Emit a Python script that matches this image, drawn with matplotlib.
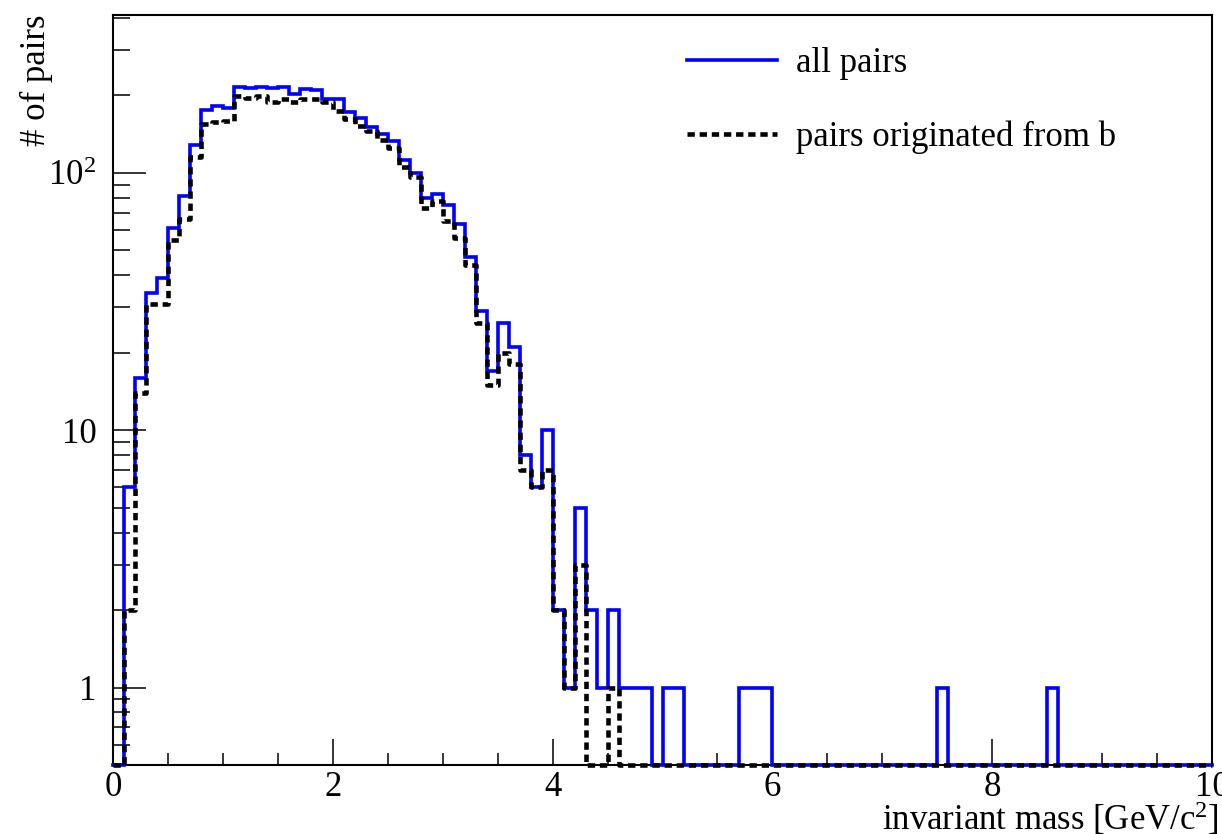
import numpy as np
import matplotlib
matplotlib.use("Agg")
import matplotlib.pyplot as plt
from matplotlib.ticker import FixedLocator, FixedFormatter, MultipleLocator, NullFormatter
from matplotlib.lines import Line2D

# ---------------- data (100 bins of 0.1 GeV/c^2 from 0 to 10) ----------------
x_min, x_max, n_bins = 0.0, 10.0, 100

all_pairs = [
    0, 6, 16, 34, 39, 61, 81, 128, 175, 181,
    178, 216, 213, 216, 213, 216, 203, 212, 209, 193,
    193, 172, 163, 151, 141, 133, 112, 100, 80, 83,
    75, 63, 47, 29, 17, 26, 21, 8, 6, 10,
    2, 1, 5, 2, 1, 2, 1, 1, 1, 0,
    1, 1, 0, 0, 0, 0, 0, 1, 1, 1,
    0, 0, 0, 0, 0, 0, 0, 0, 0, 0,
    0, 0, 0, 0, 0, 1, 0, 0, 0, 0,
    0, 0, 0, 0, 0, 1, 0, 0, 0, 0,
    0, 0, 0, 0, 0, 0, 0, 0, 0, 0,
]

pairs_from_b = [
    0, 2, 14, 31, 31, 55, 66, 115, 155, 157,
    159, 199, 196, 199, 189, 193, 188, 193, 193, 188,
    173, 162, 152, 145, 134, 125, 105, 96, 73, 78,
    65, 56, 44, 26, 15, 20, 18, 7, 6, 7,
    2, 1, 3, 0, 0, 1, 0, 0, 0, 0,
    0, 0, 0, 0, 0, 0, 0, 0, 0, 0,
    0, 0, 0, 0, 0, 0, 0, 0, 0, 0,
    0, 0, 0, 0, 0, 0, 0, 0, 0, 0,
    0, 0, 0, 0, 0, 0, 0, 0, 0, 0,
    0, 0, 0, 0, 0, 0, 0, 0, 0, 0,
]

series_labels = ["all pairs", "pairs originated from b"]
x_title = r"invariant mass [GeV/c$\mathregular{^{2}}$]"
y_title = "# of pairs"
y_tick_values = [1, 10, 100]
y_tick_labels = ["1", "10", r"$\mathregular{10^{2}}$"]
x_tick_values = [0, 2, 4, 6, 8, 10]
y_min, y_max = 0.5, 410

# ---------------- style ----------------
plt.rcParams['font.family'] = ['Liberation Serif', 'DejaVu Serif']
plt.rcParams['mathtext.fontset'] = 'custom'
plt.rcParams['mathtext.rm'] = 'Liberation Serif'
FS = 25
BLUE_LW = 2.6
BLACK_LW = 3.3
BLACK_DASH = (1.6, 1.05)

W, H = 1222, 834
fig = plt.figure(figsize=(W / 100, H / 100), dpi=100)
L, R, T, B = 113, 1212, 15, 765
ax = fig.add_axes([L / W, 1 - B / H, (R - L) / W, (B - T) / H])

edges = np.linspace(x_min, x_max, n_bins + 1)


def step_vals(v):
    v = np.asarray(v, dtype=float)
    v = np.where(v > 0, v, y_min)
    return np.append(v, v[-1])


ax.step(edges, step_vals(all_pairs), where='post', color='#0000ff',
        lw=BLUE_LW, clip_on=False, zorder=3, solid_joinstyle='miter')
ax.step(edges, step_vals(pairs_from_b), where='post', color='black',
        lw=BLACK_LW, dashes=BLACK_DASH, clip_on=False, zorder=4)

ax.set_yscale('log')
ax.set_xlim(x_min, x_max)
ax.set_ylim(y_min, y_max)

ax.xaxis.set_major_locator(FixedLocator(x_tick_values))
ax.xaxis.set_minor_locator(MultipleLocator(0.5))
ax.yaxis.set_major_locator(FixedLocator(y_tick_values))
ax.yaxis.set_major_formatter(FixedFormatter(y_tick_labels))
minor_y = [m * d for d in (0.1, 1, 10, 100) for m in range(2, 10)]
ax.yaxis.set_minor_locator(FixedLocator(minor_y))
ax.yaxis.set_minor_formatter(NullFormatter())

ax.tick_params(which='both', direction='in', top=False, right=False,
               width=1.1, colors='black', labelsize=FS)
ax.tick_params(axis='x', which='major', length=18.5, pad=4)
ax.tick_params(axis='x', which='minor', length=8.5)
ax.tick_params(axis='y', which='major', length=23.5, pad=12)
ax.tick_params(axis='y', which='minor', length=12)

for s in ax.spines.values():
    s.set_linewidth(1.5)

fig.text(1219 / W, 1 - 800 / H, x_title, ha='right', va='top', fontsize=FS)
fig.text(36 / W, 1 - 14 / H, y_title, rotation=90, ha='center', va='top', fontsize=FS)

handles = [
    Line2D([], [], color='#0000ff', lw=BLUE_LW),
    Line2D([], [], color='black', lw=BLACK_LW, dashes=BLACK_DASH),
]
fig.legend(handles, series_labels, loc='upper left',
           bbox_to_anchor=(687 / W, 1 - 47 / H), frameon=False,
           fontsize=FS, handlelength=2.6, handletextpad=0.55,
           labelspacing=1.17, borderpad=0, borderaxespad=0)

fig.savefig('out.png', dpi=100)
